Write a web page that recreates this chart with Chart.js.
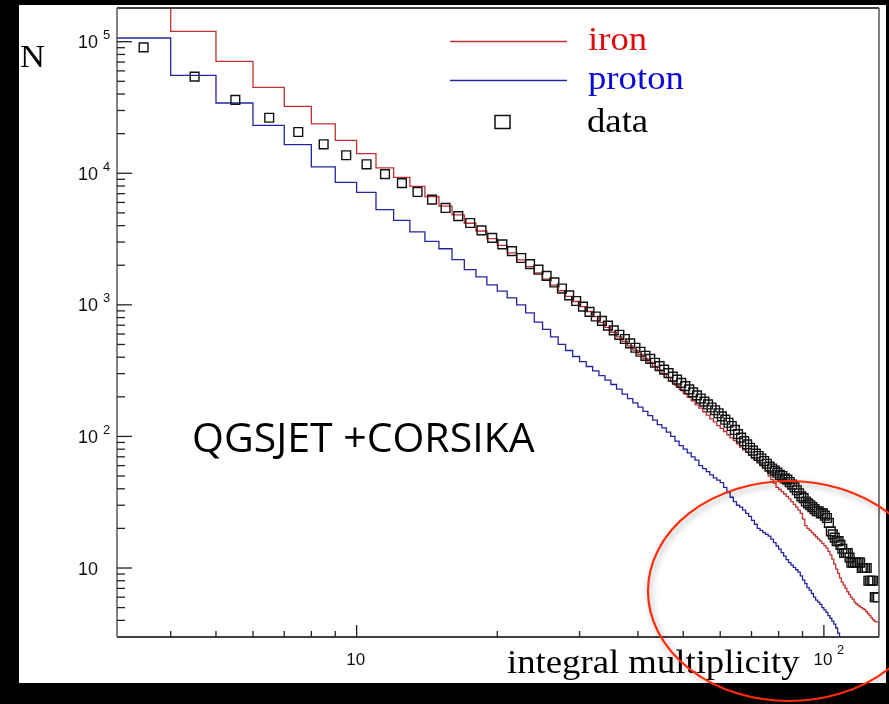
<!DOCTYPE html>
<html>
<head>
<meta charset="utf-8">
<script src="https://cdn.jsdelivr.net/npm/chart.js@4.4.1/dist/chart.umd.min.js"></script>
<style>
html, body { margin: 0; padding: 0; background: #000; }
#wrap { width: 889px; height: 704px; }
</style>
</head>
<body>
<div id="wrap"><canvas id="mult" width="889" height="704"></canvas></div>
<script>
// integral multiplicity bins (lower edge), 3 .. 131
const multiplicity = []
for (let m = 3; m <= 131; m++) multiplicity.push(m)

// QGSJET + CORSIKA, iron primaries (m = 3..131)
const iron = [
    250000, 119800, 70800, 45000, 32200, 23700, 17800, 14100, 10970, 9310,
    7950, 6650, 5630, 4830, 4170, 3640, 3190, 2830, 2480, 2200,
    1950, 1750, 1570, 1410, 1280, 1160, 1060, 970, 890, 815,
    735, 674, 619, 571, 527, 488, 452, 420, 391, 365,
    341, 319, 299, 280, 261, 243, 227, 212, 198, 186,
    174, 164, 154, 145, 136, 129, 121, 115, 109, 103,
    97.5, 93, 88, 83, 79, 76, 72, 69, 66, 64,
    61, 58, 55, 50, 47, 44, 41, 39.5, 38, 36.5,
    35, 33.5, 32, 30.5, 29, 27.5, 26, 23.5, 21, 20,
    19.3, 18.6, 17.9, 17.2, 16.6, 16, 15.4, 14.8, 14.2, 13.4,
    12.6, 11.7, 10.7, 9.8, 9.1, 8.4, 7.8, 7.4, 7, 6.6,
    6.3, 6.0, 5.8, 5.5, 5.35, 5.2, 5.1, 5.0, 4.9, 4.8,
    4.65, 4.5, 4.35, 4.2, 4.05, 3.95, 3.9, 3.9, 2
]

// proton primaries (m = 3..108)
const proton = [
    106700, 55500, 34200, 23100, 16500, 11200, 8530, 7160, 5290, 4390,
    3580, 3040, 2670, 2210, 1850, 1630, 1420, 1270, 1130, 1000,
    870, 740, 650, 570, 500, 450, 405, 370, 340, 315,
    290, 268, 248, 229, 210, 194, 180, 167, 155, 144,
    133, 123, 116, 108, 100, 92, 85, 80, 75, 70,
    66, 60, 57, 54, 51, 48.5, 46.5, 44.5, 41, 37.5,
    34.5, 32, 30, 29, 27.5, 26, 24.7, 23, 21.5, 20,
    19.3, 18.6, 18, 17.5, 16.6, 15.6, 14.7, 13.9, 13.1, 12.3,
    11.6, 11, 10.5, 10.1, 9.7, 9.3, 8.7, 8.1, 7.6, 7.1,
    6.8, 6.4, 6.0, 5.7, 5.5, 5.3, 5.0, 4.8, 4.6, 4.35,
    4.15, 3.95, 3.75, 3.5, 3.2, 2
]

// measured data (m = 3..130, plotted at bin centre)
const measured = [
    90600, 54200, 36100, 26400, 20600, 16600, 13700, 11700, 9840, 8410,
    7210, 6300, 5450, 4720, 4190, 3680, 3230, 2880, 2560, 2270,
    2040, 1850, 1660, 1480, 1330, 1180, 1070, 970, 885, 815,
    755, 695, 640, 592, 550, 510, 472, 440, 410, 388,
    363, 342, 322, 303, 285, 270, 255, 241, 228, 216,
    205, 194, 184, 175, 166, 158, 150, 142, 134, 127,
    120, 112, 104, 98, 92, 87, 82, 78, 74, 71,
    68, 65, 62, 59, 57, 55, 53, 51, 50, 48,
    47, 45, 43, 41, 39, 37, 35, 34, 32, 31,
    30, 29, 28, 27, 27, 26, 26, 25, 24, 22,
    19, 18, 17, 16, 16, 15, 14, 13, 13, 13,
    12, 11, 11, 11, 11, 11, 11, 10, 10, 10,
    10, 8, 8, 8, 8, 6, 6, 6
]

const xMajorTicks = [10, 100]
const xMajorExp = ['', '2']
const xMinorTicks = [4, 5, 6, 7, 8, 9, 20, 30, 40, 50, 60, 70, 80, 90]
const yMajorTicks = [10, 100, 1000, 10000, 100000]
const yMajorExp = ['', '2', '3', '4', '5']
const yMinorTicks = [4, 5, 6, 7, 8, 9,
    20, 30, 40, 50, 60, 70, 80, 90,
    200, 300, 400, 500, 600, 700, 800, 900,
    2000, 3000, 4000, 5000, 6000, 7000, 8000, 9000,
    20000, 30000, 40000, 50000, 60000, 70000, 80000, 90000]

const ironColor = 'rgb(192,48,48)'
const protonColor = 'rgb(36,36,160)'

const toPoints = function (values, shift) {
    return values.map((v, i) => ({ x: multiplicity[i] + shift, y: v }))
}

const panel = {
    id: 'panel',
    beforeDraw(chart) {
        const ctx = chart.ctx
        ctx.save()
        ctx.fillStyle = '#000'
        ctx.fillRect(0, 0, chart.width, chart.height)
        ctx.fillStyle = '#fff'
        ctx.fillRect(19, 5, 867, 678)
        ctx.restore()
    }
}

const seg = function (ctx, x1, y1, x2, y2) {
    ctx.beginPath()
    ctx.moveTo(x1, y1)
    ctx.lineTo(x2, y2)
    ctx.stroke()
}

const rootAxes = {
    id: 'rootAxes',
    afterDatasetsDraw(chart) {
        const ctx = chart.ctx
        const a = chart.chartArea
        const x = chart.scales.x, y = chart.scales.y
        ctx.save()
        ctx.lineWidth = 1.5
        ctx.strokeStyle = '#000'
        seg(ctx, a.left, a.top, a.right, a.top)
        seg(ctx, a.left, a.bottom, a.right, a.bottom)
        ctx.strokeStyle = '#555'
        seg(ctx, a.left, a.top, a.left, a.bottom)
        seg(ctx, a.right, a.top, a.right, a.bottom)

        ctx.strokeStyle = '#222'
        ctx.lineWidth = 1.3
        yMajorTicks.forEach(v => { const p = y.getPixelForValue(v); seg(ctx, a.left, p, a.left + 15, p) })
        yMinorTicks.forEach(v => { const p = y.getPixelForValue(v); seg(ctx, a.left, p, a.left + 8, p) })
        xMajorTicks.forEach(v => { const p = x.getPixelForValue(v); seg(ctx, p, a.bottom, p, a.bottom - 12) })
        xMinorTicks.forEach(v => { const p = x.getPixelForValue(v); seg(ctx, p, a.bottom, p, a.bottom - 6) })

        ctx.fillStyle = '#111'
        yMajorTicks.forEach((v, i) => {
            const p = y.getPixelForValue(v)
            ctx.font = '18px "Liberation Sans"'
            ctx.textAlign = 'right'
            ctx.fillText('10', 98, p + 6.5)
            if (yMajorExp[i]) {
                ctx.font = '13px "Liberation Sans"'
                ctx.textAlign = 'left'
                ctx.fillText(yMajorExp[i], 103, p - 2.5)
            }
        })
        xMajorTicks.forEach((v, i) => {
            const p = x.getPixelForValue(v)
            ctx.font = '17px "Liberation Sans"'
            ctx.textAlign = 'center'
            ctx.fillText('10', p - 1, 665)
            if (xMajorExp[i]) {
                ctx.font = '13px "Liberation Sans"'
                ctx.textAlign = 'left'
                ctx.fillText(xMajorExp[i], p + 13, 654)
            }
        })
        ctx.restore()
    }
}

const wideText = function (ctx, text, x, y, font, color) {
    ctx.save()
    ctx.font = font
    ctx.fillStyle = color
    ctx.textAlign = 'left'
    ctx.translate(x, y)
    ctx.scale(1.08, 1)
    ctx.fillText(text, 0, 0)
    ctx.restore()
}

const annotations = {
    id: 'annotations',
    afterDraw(chart) {
        const ctx = chart.ctx
        const ds = chart.data.datasets
        ctx.save()
        // legend
        ctx.lineWidth = 1.3
        ctx.strokeStyle = ds[1].borderColor
        seg(ctx, 450, 41.5, 567, 41.5)
        ctx.strokeStyle = ds[2].borderColor
        seg(ctx, 450, 80.5, 567, 80.5)
        ctx.strokeStyle = '#111'
        ctx.lineWidth = 1.5
        ctx.strokeRect(495, 115.5, 15, 13)
        const serif = '34px "Liberation Serif"'
        wideText(ctx, 'iron', 588, 50, serif, 'rgb(222,12,12)')
        wideText(ctx, 'proton', 588, 89, serif, 'rgb(10,10,215)')
        wideText(ctx, 'data', 587, 132, serif, '#000')
        wideText(ctx, 'N', 20, 67, '32px "Liberation Serif"', '#000')
        wideText(ctx, 'integral multiplicity', 507, 673, serif, '#000')

        ctx.font = '41px "Open Sans"'
        ctx.fillStyle = '#000'
        ctx.textAlign = 'left'
        ctx.fillText('QGSJET +CORSIKA', 192, 452)

        // highlight ellipse
        ctx.shadowColor = 'rgba(0,0,0,0.35)'
        ctx.shadowBlur = 6
        ctx.shadowOffsetX = 2
        ctx.shadowOffsetY = 3
        ctx.strokeStyle = 'rgb(255,45,10)'
        ctx.lineWidth = 2.2
        ctx.beginPath()
        ctx.ellipse(789, 591, 141, 110, 0, 0, Math.PI * 2)
        ctx.stroke()
        ctx.restore()
    }
}

new Chart(document.getElementById('mult'), {
    type: 'line',
    data: {
        datasets: [{
            label: 'data',
            data: toPoints(measured, 0.5),
            showLine: false,
            pointStyle: 'rect',
            pointRadius: 6.2,
            pointBorderWidth: 1.4,
            pointBorderColor: '#111',
            pointBackgroundColor: 'rgba(0,0,0,0)',
            order: 0
        }, {
            label: 'iron',
            data: toPoints(iron, 0),
            stepped: 'before',
            borderColor: ironColor,
            borderWidth: 1.3,
            pointRadius: 0,
            clip: 0,
            order: 1
        }, {
            label: 'proton',
            data: toPoints(proton, 0),
            stepped: 'before',
            borderColor: protonColor,
            borderWidth: 1.3,
            pointRadius: 0,
            clip: 0,
            order: 2
        }]
    },
    options: {
        responsive: false,
        animation: false,
        layout: { padding: { left: 117, right: 10, top: 8, bottom: 67 } },
        scales: {
            x: { type: 'logarithmic', min: 3.07, max: 131.2, display: false },
            y: { type: 'logarithmic', min: 2.99, max: 180300, display: false }
        },
        plugins: {
            legend: { display: false },
            tooltip: { enabled: false }
        }
    },
    plugins: [panel, rootAxes, annotations]
})
</script>
</body>
</html>
